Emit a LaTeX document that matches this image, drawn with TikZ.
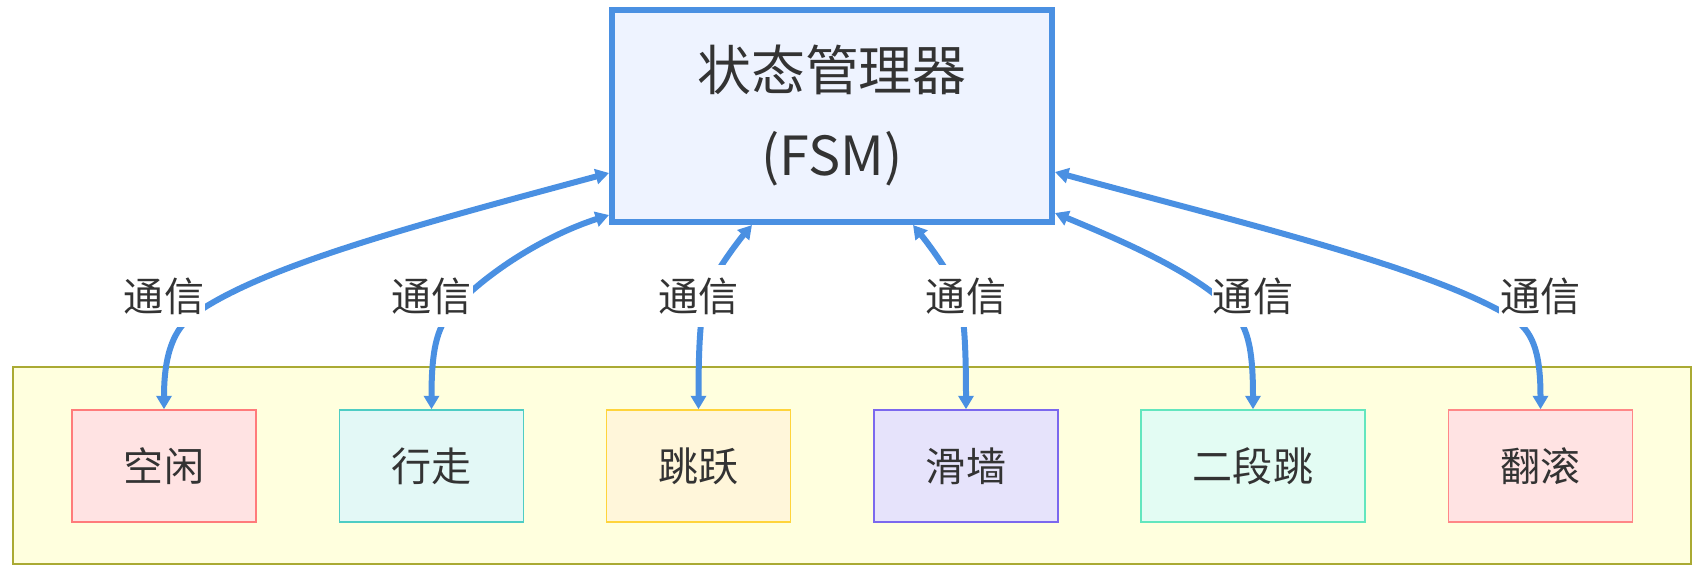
\documentclass[tikz,border=0pt]{standalone}
\usepackage{fontspec}
\setmainfont{Noto Sans CJK SC}
\usetikzlibrary{arrows.meta,calc}
\definecolor{edgeblue}{HTML}{4A90E2}
\definecolor{txt}{HTML}{333333}
\definecolor{fsmfill}{HTML}{EEF3FF}
\definecolor{grpfill}{HTML}{FFFFDE}
\definecolor{grpdraw}{HTML}{AAAA33}
\definecolor{redfill}{HTML}{FFE3E3}
\definecolor{reddraw}{HTML}{FF7B7B}
\definecolor{tealfill}{HTML}{E3F8F6}
\definecolor{tealdraw}{HTML}{4ECDC4}
\definecolor{yelfill}{HTML}{FFF6DA}
\definecolor{yeldraw}{HTML}{FFD43B}
\definecolor{purfill}{HTML}{E6E3FB}
\definecolor{purdraw}{HTML}{7B68EE}
\definecolor{mintfill}{HTML}{E3FCF3}
\definecolor{mintdraw}{HTML}{63E6BE}
\definecolor{rollfill}{HTML}{FFE3E3}
\definecolor{rolldraw}{HTML}{FF8787}
\begin{document}
\begin{tikzpicture}[x=0.02cm,y=-0.02cm,
  fsmbox/.style={draw=edgeblue,fill=fsmfill,line width=0.12cm,minimum width=8.8cm,minimum height=4.24cm,inner sep=0pt,align=center,text=txt,font=\fontsize{30.7}{48.4}\selectfont},
  stbox/.style={line width=0.03cm,minimum width=3.68cm,minimum height=2.24cm,inner sep=0pt,text=txt,font=\fontsize{22.8}{27}\selectfont},
  grp/.style={draw=grpdraw,fill=grpfill,line width=0.03cm,minimum width=33.56cm,minimum height=3.94cm,inner sep=0pt},
  lbl/.style={fill=white,inner xsep=0.02cm,inner ysep=0pt,minimum height=1.26cm,text=txt,font=\fontsize{22.8}{27}\selectfont},
  conn/.style={draw=edgeblue,line width=0.12cm,{Triangle[length=0.27cm,width=0.3cm]}-{Triangle[length=0.27cm,width=0.3cm]}}
]
\useasboundingbox (0,0) rectangle (1705,575);
\node[grp] (group) at (852,465.5) {};
\node[stbox,draw=reddraw,fill=redfill] (b1) at (164,466) {空闲};
\node[stbox,draw=tealdraw,fill=tealfill] (b2) at (431.5,466) {行走};
\node[stbox,draw=yeldraw,fill=yelfill] (b3) at (698.5,466) {跳跃};
\node[stbox,draw=purdraw,fill=purfill] (b4) at (966,466) {滑墙};
\node[stbox,draw=mintdraw,fill=mintfill,minimum width=4.48cm] (b5) at (1253,466) {二段跳};
\node[stbox,draw=rolldraw,fill=rollfill] (b6) at (1540.5,466) {翻滚};
\node[fsmbox] (fsm) at (832,116) {状态管理器\\(FSM)};
\coordinate (s1) at (fsm.west |- 0,173);
\coordinate (s2) at (fsm.west |- 0,215);
\coordinate (s3) at (752,0 |- fsm.south);
\coordinate (s4) at (913,0 |- fsm.south);
\coordinate (s5) at (fsm.east |- 0,213);
\coordinate (s6) at (fsm.east |- 0,172);
\coordinate (m1) at (192,316);
\coordinate (m2) at (455,307);
\coordinate (m3) at (708,290);
\coordinate (m4) at (956.5,290);
\coordinate (m5) at (1230,308);
\coordinate (m6) at (1511,317);
\draw[conn] (s1) .. controls (420,224) and (260,266) .. (m1) .. controls (176,328) and (164,350) .. (b1.north);
\draw[conn] (s2) .. controls (547,235) and (490,270) .. (m2) .. controls (438,325) and (431.5,345) .. (b2.north);
\draw[conn] (s3) .. controls (740,239) and (716,270) .. (m3) .. controls (703,305) and (698.5,320) .. (b3.north);
\draw[conn] (s4) .. controls (924.5,239) and (948.5,270) .. (m4) .. controls (961.5,305) and (966,320) .. (b4.north);
\draw[conn] (s5) .. controls (1120,240) and (1195,272) .. (m5) .. controls (1247,325) and (1253,345) .. (b5.north);
\draw[conn] (s6) .. controls (1250,225) and (1430,268) .. (m6) .. controls (1532,330) and (1540.5,350) .. (b6.north);
\node[lbl] (l1) at (164,296) {通信};
\node[lbl] (l2) at (431.5,296) {通信};
\node[lbl] (l3) at (698.5,296) {通信};
\node[lbl] (l4) at (966,296) {通信};
\node[lbl] (l5) at (1253,296) {通信};
\node[lbl] (l6) at (1540.5,296) {通信};
\end{tikzpicture}
\end{document}
